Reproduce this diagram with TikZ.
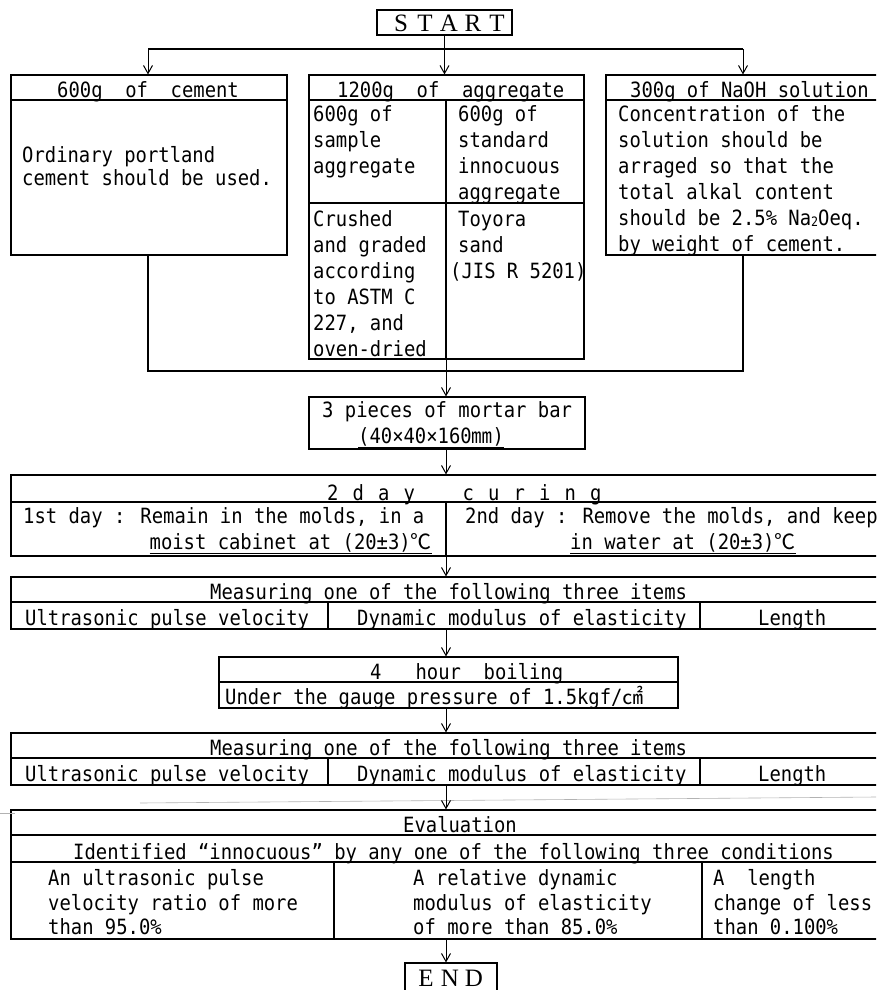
\documentclass[tikz,border=0pt]{standalone}
\usepackage{fontspec}
\usetikzlibrary{arrows.meta,fit}
\newfontfamily\mono[FakeStretch=0.898]{DejaVu Sans Mono}
\newfontfamily\cjk{Noto Sans CJK JP}
\newfontfamily\serifbig{Liberation Serif}
\newcommand\cj[1]{{\cjk #1}}
\newcommand\lsp[1]{\makebox[24pt][c]{#1}}
\newcommand\csp[1]{\makebox[25.5pt][l]{#1}}
\newcommand\subtwo{\raisebox{-1.5pt}{\fontsize{13}{13}\selectfont 2}}
\tikzset{
  box/.style={draw, line width=1.1pt, inner sep=0pt, rectangle},
  ln/.style={line width=1.1pt},
  arr/.style={line width=1pt, -{Straight Barb[length=8pt,width=9pt]}},
  txt/.style={font=\fontsize{21}{26}\selectfont\mono, inner sep=0pt, anchor=base west},
  big/.style={font=\fontsize{25}{25}\selectfont\serifbig, inner sep=0pt, anchor=base},
}
\begin{document}
\begin{tikzpicture}[x=1pt,y=-1pt]
\useasboundingbox (0,0) rectangle (876,990);
\clip (0,0) rectangle (876,990);
\coordinate (ax) at (446,0);
% ---------------- boxes
\node[box, fit={(377,10) (512,35)}] (start) {};
\node[box, fit={(11,75) (287,255)}] (cement) {};
\node[box, fit={(309,75) (584,359)}] (agg) {};
\node[box, fit={(606,75) (900,255)}] (naoh) {};
\node[box, fit={(309,397) (585,449)}] (mortar) {};
\node[box, fit={(11,475) (900,556)}] (cure) {};
\node[box, fit={(11,577) (900,629)}] (meas1) {};
\node[box, fit={(219,657) (678,708)}] (boil) {};
\node[box, fit={(11,733) (900,785)}] (meas2) {};
\node[box, fit={(11,810) (900,939)}] (eval) {};
\node[box, fit={(405,963) (497,1005)}] (end) {};
% ---------------- inner dividers
\draw[ln] (cement.west |- 0,100) -- (cement.east |- 0,100);
\draw[ln] (agg.west |- 0,100) -- (agg.east |- 0,100);
\draw[ln] (naoh.west |- 0,100) -- (naoh.east |- 0,100);
\draw[ln] (446,100) -- (446,0 |- agg.south);
\draw[ln] (agg.west |- 0,203) -- (agg.east |- 0,203);
\draw[ln] (cure.west |- 0,502) -- (cure.east |- 0,502);
\draw[ln] (446,502) -- (446,0 |- cure.south);
\draw[ln] (meas1.west |- 0,602) -- (meas1.east |- 0,602);
\draw[ln] (328,602) -- (328,0 |- meas1.south);
\draw[ln] (700,602) -- (700,0 |- meas1.south);
\draw[ln] (boil.west |- 0,682) -- (boil.east |- 0,682);
\draw[ln] (meas2.west |- 0,758) -- (meas2.east |- 0,758);
\draw[ln] (328,758) -- (328,0 |- meas2.south);
\draw[ln] (700,758) -- (700,0 |- meas2.south);
\draw[ln] (eval.west |- 0,835) -- (eval.east |- 0,835);
\draw[ln] (eval.west |- 0,862) -- (eval.east |- 0,862);
\draw[ln] (334,862) -- (334,0 |- eval.south);
\draw[ln] (702,862) -- (702,0 |- eval.south);
% scan artefact lines
\draw[gray!60, line width=0.6pt] (140,803) -- (876,797);
\draw[gray!60, line width=0.6pt] (0,813) -- (15,813);
% ---------------- connectors
\coordinate (busL) at (148,49);
\coordinate (busR) at (743,49);
\coordinate (joinL) at (148,371);
\coordinate (joinR) at (743,371);
\draw[ln] (busL) -- (busR);
\draw[arr] (start.south) -- (start.south |- agg.north);
\draw[arr] (busL) -- (busL |- cement.north);
\draw[arr] (busR) -- (busR |- naoh.north);
\draw[ln] (joinL |- cement.south) -- (joinL) -- (joinR) -- (joinR |- naoh.south);
\draw[arr] (ax |- agg.south) -- (ax |- mortar.north);
\draw[arr] (ax |- mortar.south) -- (ax |- cure.north);
\draw[arr] (ax |- cure.south) -- (ax |- meas1.north);
\draw[arr] (ax |- meas1.south) -- (ax |- boil.north);
\draw[arr] (ax |- boil.south) -- (ax |- meas2.north);
\draw[arr] (ax |- meas2.south) -- (ax |- eval.north);
\draw[arr] (ax |- eval.south) -- (ax |- end.north);
% ---------------- texts
\node[big] (tstart) at (449,32) {\lsp{S}\lsp{T}\lsp{A}\lsp{R}\lsp{T}};
\node[big] (tend) at (450,986) {\lsp{E}\lsp{N}\lsp{D}};
% cement
\node[txt] (c0) at (57,97) {600g\ \ of\ \ cement};
\node[txt] (c1) at (22,162) {Ordinary portland};
\node[txt] (c2) at (22,185) {cement should be used.};
% aggregate
\node[txt] (a0) at (337,97) {1200g\ \ of\ \ aggregate};
\node[txt] (a1) at (313,121) {600g of};
\node[txt] (a2) at (313,147) {sample};
\node[txt] (a3) at (313,173) {aggregate};
\node[txt] (b1) at (458,121) {600g of};
\node[txt] (b2) at (458,147) {standard};
\node[txt] (b3) at (458,173) {innocuous};
\node[txt] (b4) at (458,199) {aggregate};
\node[txt] (a4) at (313,226) {Crushed};
\node[txt] (a5) at (313,252) {and graded};
\node[txt] (a6) at (313,278) {according};
\node[txt] (a7) at (313,304) {to ASTM C};
\node[txt] (a8) at (313,330) {227, and};
\node[txt] (a9) at (313,356) {oven-dried};
\node[txt] (b5) at (458,226) {Toyora};
\node[txt] (b6) at (458,252) {sand};
\node[txt] (b7) at (450,278) {(JIS R 5201)};
% naoh
\node[txt] (n0) at (630,97) {300g of NaOH solution};
\node[txt] (n1) at (618,121) {Concentration of the};
\node[txt] (n2) at (618,147) {solution should be};
\node[txt] (n3) at (618,173) {arraged so that the};
\node[txt] (n4) at (618,199) {total alkal content};
\node[txt] (n5) at (618,225) {should be 2.5\% Na\subtwo Oeq.};
\node[txt] (n6) at (618,251) {by weight of cement.};
% mortar
\node[txt] (m1) at (322,417) {3 pieces of mortar bar};
\node[txt] (m2) at (358,443) {\underline{(40×40×160\cj{㎜})}};
% curing
\node[txt] (k0) at (327,500) {\csp{2}\csp{d}\csp{a}\csp{y}\hspace{33.5pt}\csp{c}\csp{u}\csp{r}\csp{i}\csp{n}g};
\node[txt] (k1) at (23,523) {1st day : Remain in the molds, in a};
\node[txt, anchor=base east] (k2) at (432,549) {\underline{moist cabinet at (20±3)\cj{℃}}};
\node[txt] (k3) at (465,523) {2nd day : Remove the molds, and keep};
\node[txt] (k4) at (570,549) {\underline{in water at (20±3)\cj{℃}}};
% measuring 1
\node[txt] (p0) at (210,599) {Measuring one of the following three items};
\node[txt] (p1) at (25,625) {Ultrasonic pulse velocity};
\node[txt] (p2) at (357,625) {Dynamic modulus of elasticity};
\node[txt] (p3) at (758,625) {Length};
% boiling
\node[txt] (h0) at (370,679) {4\ \ \ hour\ \ boiling};
\node[txt] (h1) at (225,704) {Under the gauge pressure of 1.5kgf/\cj{㎠}};
% measuring 2
\node[txt] (q0) at (210,755) {Measuring one of the following three items};
\node[txt] (q1) at (25,781) {Ultrasonic pulse velocity};
\node[txt] (q2) at (357,781) {Dynamic modulus of elasticity};
\node[txt] (q3) at (758,781) {Length};
% evaluation
\node[txt] (e0) at (403,832) {Evaluation};
\node[txt] (e1) at (73,859) {Identified “innocuous” by any one of the following three conditions};
\node[txt] (e2) at (48,885) {An ultrasonic pulse};
\node[txt] (e3) at (48,910) {velocity ratio of more};
\node[txt] (e4) at (48,934) {than 95.0\%};
\node[txt] (e5) at (413,885) {A relative dynamic};
\node[txt] (e6) at (413,910) {modulus of elasticity};
\node[txt] (e7) at (413,934) {of more than 85.0\%};
\node[txt] (e8) at (713,885) {A\ \ length};
\node[txt] (e9) at (713,910) {change of less};
\node[txt] (e10) at (713,934) {than 0.100\%};
\end{tikzpicture}
\end{document}
